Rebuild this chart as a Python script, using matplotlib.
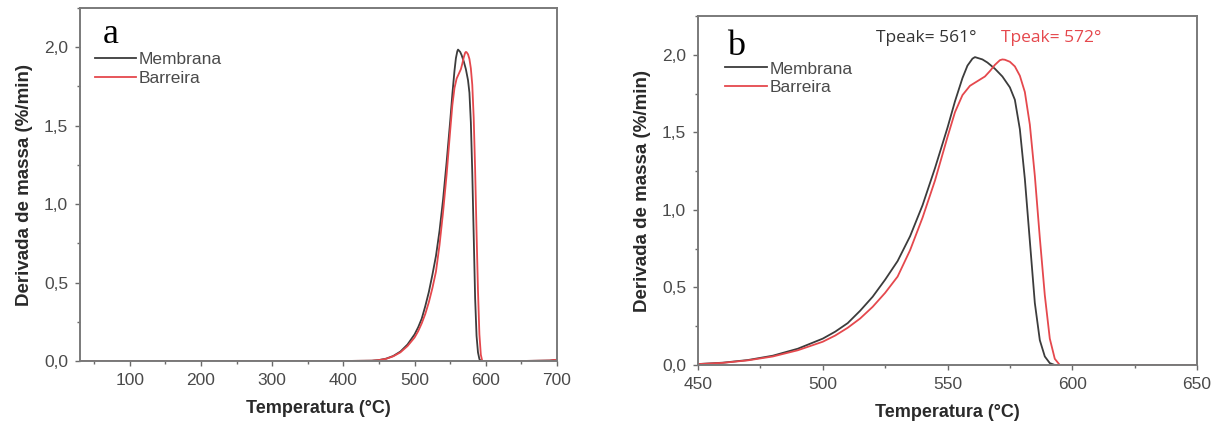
import matplotlib
matplotlib.use("Agg")
import matplotlib.pyplot as plt
from matplotlib.ticker import MultipleLocator, FuncFormatter

# DTG curves: temperatura (°C) vs derivada de massa (%/min)
temp_membrana = [30, 400, 440, 450, 460, 470, 480, 490, 500, 505, 510, 515, 520, 525,
                 530, 535, 540, 545, 550, 553, 556, 558, 560, 561, 562, 564, 566, 569,
                 572, 575, 577, 579, 581, 583, 585, 587, 589, 591, 593, 650, 690, 700]
dtg_membrana = [0, 0, 0.002, 0.006, 0.015, 0.032, 0.06, 0.105, 0.17, 0.215, 0.27, 0.35,
                0.44, 0.55, 0.67, 0.83, 1.03, 1.27, 1.53, 1.70, 1.85, 1.93, 1.975, 1.985,
                1.98, 1.97, 1.95, 1.91, 1.86, 1.79, 1.71, 1.52, 1.20, 0.80, 0.40, 0.16,
                0.055, 0.012, 0, 0, 0.003, 0.008]

temp_barreira = [30, 400, 440, 450, 460, 470, 480, 490, 500, 505, 510, 515, 520, 525,
                 530, 535, 540, 545, 550, 553, 556, 559, 562, 565, 567, 569, 571, 572,
                 573, 575, 577, 579, 581, 583, 585, 587, 589, 591, 593, 595, 650, 690, 700]
dtg_barreira = [0, 0, 0.002, 0.006, 0.014, 0.03, 0.055, 0.095, 0.15, 0.19, 0.24, 0.30,
                0.375, 0.465, 0.57, 0.74, 0.95, 1.19, 1.47, 1.63, 1.74, 1.80, 1.83,
                1.86, 1.895, 1.935, 1.965, 1.97, 1.968, 1.955, 1.925, 1.865, 1.76, 1.55,
                1.22, 0.82, 0.45, 0.17, 0.04, 0, 0, 0.003, 0.008]

series_labels = ["Membrana", "Barreira"]
series_colors = ["#3c3c3c", "#e5484d"]

W, H = 1215, 430
fig = plt.figure(figsize=(W / 100, H / 100), dpi=100)


def box(l, t, r, b):
    return [l / W, 1 - b / H, (r - l) / W, (b - t) / H]


tick_font = {"family": "Liberation Sans", "size": 12.5, "color": "#4a4a4a"}


def style_axes(ax, xlim, xmajor, xminor):
    ax.set_xlim(*xlim)
    ax.set_ylim(0, 2.25)
    ax.xaxis.set_major_locator(MultipleLocator(xmajor))
    ax.xaxis.set_minor_locator(MultipleLocator(xminor))
    ax.yaxis.set_major_locator(MultipleLocator(0.5))
    ax.yaxis.set_minor_locator(MultipleLocator(0.25))
    ax.yaxis.set_major_formatter(FuncFormatter(lambda v, p: f"{v:.1f}".replace(".", ",")))
    ax.xaxis.set_major_formatter(FuncFormatter(lambda v, p: f"{v:.0f}"))
    for s in ax.spines.values():
        s.set_color("#7a7a7a")
        s.set_linewidth(1.4)
    ax.tick_params(which="both", direction="out", color="#6a6a6a", width=1.0,
                   top=False, right=False)
    ax.tick_params(which="major", length=3.5, pad=5)
    ax.tick_params(which="minor", length=2.5)
    for lab in ax.get_xticklabels() + ax.get_yticklabels():
        lab.set_fontfamily(tick_font["family"])
        lab.set_fontsize(tick_font["size"])
        lab.set_color(tick_font["color"])
    ax.set_xlabel("Temperatura (°C)", fontfamily="Liberation Sans", fontsize=13,
                  fontweight="bold", color="#2a2a2a", labelpad=9)
    ax.set_ylabel("Derivada de massa (%/min)", fontfamily="Liberation Sans", fontsize=13.5,
                  fontweight="bold", color="#2a2a2a", labelpad=8)


def draw_curves(ax):
    ax.plot(temp_membrana, dtg_membrana, color=series_colors[0], lw=1.3, label=series_labels[0])
    ax.plot(temp_barreira, dtg_barreira, color=series_colors[1], lw=1.3, label=series_labels[1])


def add_legend(ax, x, y):
    leg = ax.legend(loc="upper left", bbox_to_anchor=(x, y), frameon=False,
                    borderpad=0, borderaxespad=0, handlelength=2.4, handletextpad=0.15,
                    labelspacing=0.2, prop={"family": "Liberation Sans", "size": 12.5})
    for t in leg.get_texts():
        t.set_color("#4a4a4a")


# painel a: faixa completa
ax_a = fig.add_axes(box(80, 8, 557, 361))
draw_curves(ax_a)
style_axes(ax_a, (30, 700), 100, 50)
add_legend(ax_a, 0.031, 0.875)
ax_a.text(0.048, 0.90, "a", transform=ax_a.transAxes, fontfamily="Liberation Serif",
          fontsize=26, va="baseline", ha="left")

# painel b: zoom na regiao do pico
ax_b = fig.add_axes(box(698, 16, 1197, 365))
draw_curves(ax_b)
style_axes(ax_b, (450, 650), 50, 25)
add_legend(ax_b, 0.054, 0.87)
ax_b.text(0.058, 0.888, "b", transform=ax_b.transAxes, fontfamily="Liberation Serif",
          fontsize=26, va="baseline", ha="left")

# temperaturas de pico
pk_m = temp_membrana[dtg_membrana.index(max(dtg_membrana))]
pk_b = temp_barreira[dtg_barreira.index(max(dtg_barreira))]
ax_b.text(pk_m + 0.5, 2.11, f"Tpeak= {pk_m:.0f}°", ha="right", va="center",
          fontfamily="Open Sans", fontsize=12.5, color="#333333")
ax_b.text(pk_b - 0.5, 2.11, f"Tpeak= {pk_b:.0f}°", ha="left", va="center",
          fontfamily="Open Sans", fontsize=12.5, color="#e5484d")

fig.savefig("out.png", dpi=100)
